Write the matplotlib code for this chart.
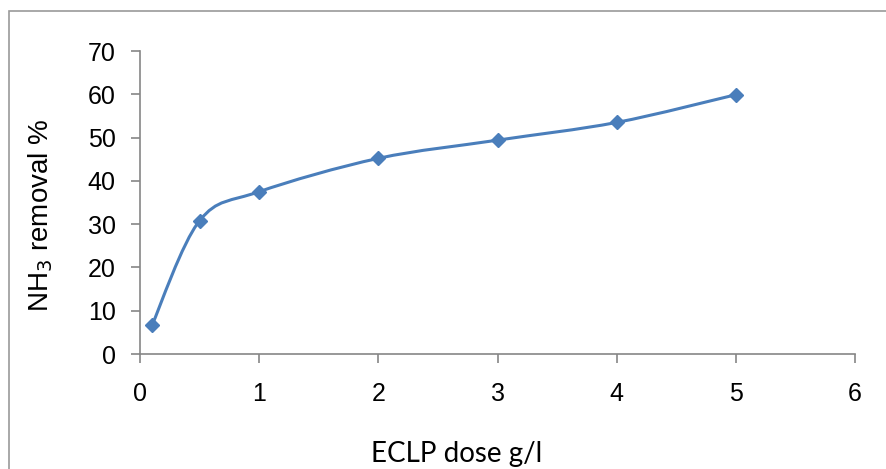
import numpy as np
import matplotlib.pyplot as plt
from matplotlib.path import Path
from matplotlib.patches import PathPatch, Rectangle

# ECLP dose (g/l) vs NH3 removal (%)
dose = [0.1, 0.5, 1, 2, 3, 4, 5]
removal = [6.6, 30.8, 37.5, 45.2, 49.4, 53.5, 59.9]

line_color = '#4A7EBB'
axis_color = '#868686'


def smooth_path(xs, ys):
    """Excel-style smoothed line: Catmull-Rom segments as cubic Beziers"""
    pts = np.column_stack([xs, ys]).astype(float)
    n = len(pts)
    verts = [pts[0]]
    codes = [Path.MOVETO]
    for i in range(n - 1):
        p0 = pts[i - 1] if i > 0 else pts[i]
        p1 = pts[i]
        p2 = pts[i + 1]
        p3 = pts[i + 2] if i + 2 < n else pts[i + 1]
        c1 = p1 + (p2 - p0) / 6
        c2 = p2 - (p3 - p1) / 6
        verts += [c1, c2, p2]
        codes += [Path.CURVE4] * 3
    return Path(verts, codes)


W, H = 886, 469
fig = plt.figure(figsize=(W / 100, H / 100), dpi=100)

# outer chart frame (runs off the right and bottom edges)
fig.patches.append(Rectangle((8.5 / W, -0.1), 1.2, 1 - 11.5 / H + 0.1,
                             transform=fig.transFigure, fill=False,
                             edgecolor='#9a9a9a', linewidth=1.2))

ax = fig.add_axes([140 / W, 1 - 354 / H, 715 / W, 303 / H])

ax.add_patch(PathPatch(smooth_path(dose, removal), fill=False,
                       edgecolor=line_color, linewidth=2.2))
ax.plot(dose, removal, linestyle='none', marker='D', markersize=7,
        color=line_color, zorder=3)

ax.set_xlim(0, 6)
ax.set_ylim(0, 70)
ax.set_xticks(range(0, 7))
ax.set_yticks(range(0, 71, 10))

for side in ['top', 'right']:
    ax.spines[side].set_visible(False)
for side in ['left', 'bottom']:
    ax.spines[side].set_color(axis_color)
    ax.spines[side].set_linewidth(1.2)

ax.tick_params(direction='out', length=6.5, width=1.2, color=axis_color,
               labelsize=18)
ax.tick_params(axis='y', pad=11)
ax.tick_params(axis='x', pad=14)
for lbl in ax.get_xticklabels() + ax.get_yticklabels():
    lbl.set_family('Liberation Sans')

fig.text(41 / W, 1 - 215 / H, 'NH$_3$ removal %', rotation=90, fontsize=20,
         family='Liberation Sans', ha='center', va='center')
fig.text(457 / W, 1 - 462 / H, 'ECLP dose g/l', fontsize=20, family='Lato',
         ha='center', va='baseline')

plt.savefig('out.png', dpi=100)
